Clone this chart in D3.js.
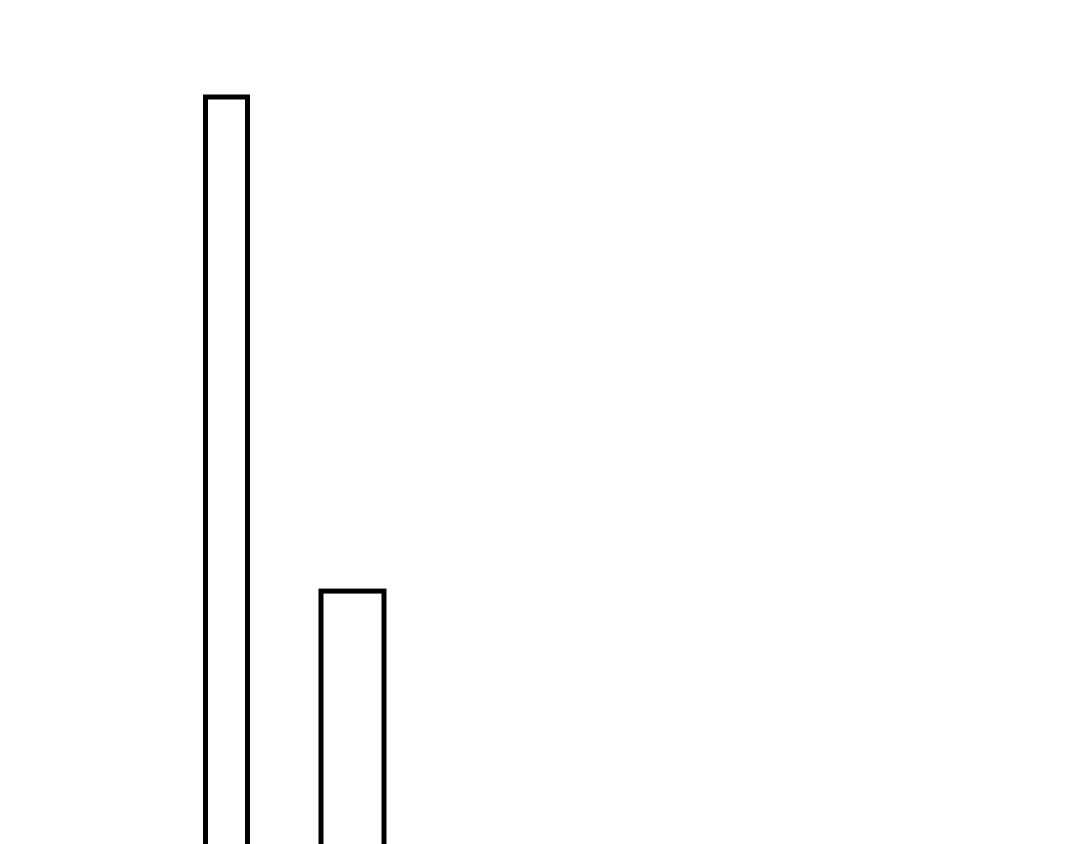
<!DOCTYPE html>
<html>
<head>
    <meta charset="utf-8">
    <title>Bars</title>
    <style>
            html, body {
            margin: 0;
            padding: 0;
            background-color: white;
            }
            svg {
            display: block;
            overflow: hidden;
            }
    </style>
</head>
<body>
<script src="https://cdn.jsdelivr.net/npm/d3@7"></script>
<script>
            // bins (start, end) and their values
            var binStarts = [10, 15.5];
            var binEnds = [12, 18.5];
            var values = [12, 5];

            var width = 1080;
            var height = 844;

            var svg = d3.select("body")
                .append("svg")
                .attr("width", width)
                .attr("height", height);

            // the baseline of the bars sits under the bottom of the picture
            var x = d3.scaleLinear().domain([0, 50]).range([-4.5, 1045.5]);
            var y = d3.scaleLinear().domain([0, 12]).range([944, 97]);

            var data = values.map(function(v, i) {
                return {start: binStarts[i], end: binEnds[i], value: v};
            });

            svg.selectAll("rect")
                .data(data)
                .enter()
                .append("rect")
                .attr("x", function(d) { return x(d.start); })
                .attr("y", function(d) { return y(d.value); })
                .attr("width", function(d) { return x(d.end) - x(d.start); })
                .attr("height", function(d) { return y(0) - y(d.value); })
                .attr("fill", "white")
                .attr("stroke", "black")
                .attr("stroke-width", 5);
</script>
</body>
</html>
